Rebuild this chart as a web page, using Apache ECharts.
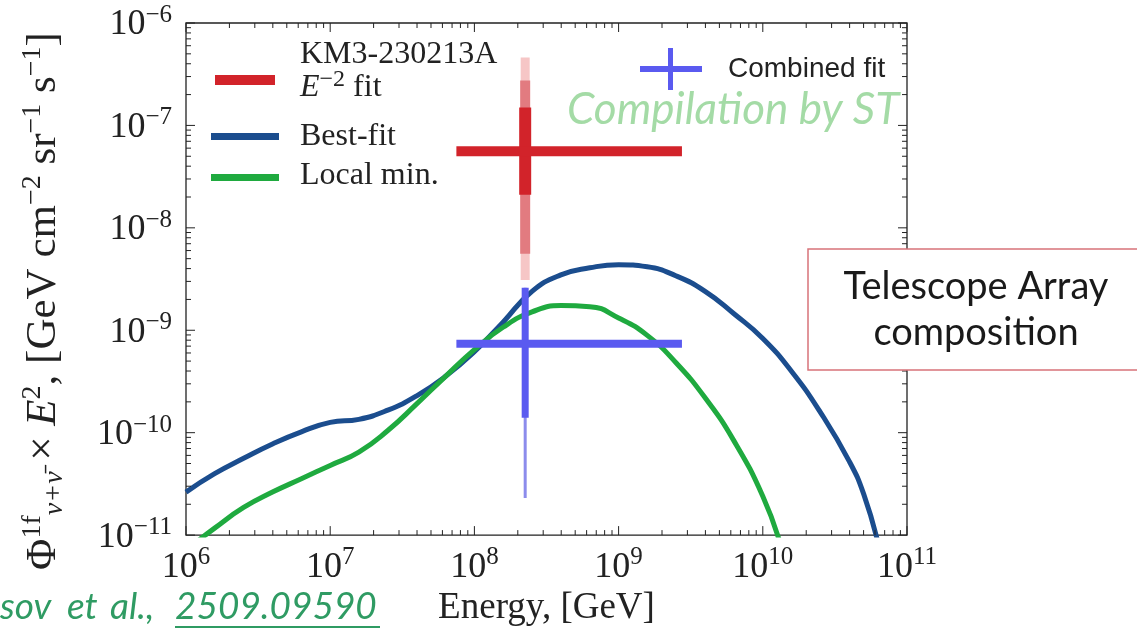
<!DOCTYPE html>
<html>
<head>
<meta charset="utf-8">
<script src="https://cdn.jsdelivr.net/npm/echarts@6/dist/echarts.min.js"></script>
<style>
  html, body { margin: 0; padding: 0; background: #fff; }
  #chart { width: 1137px; height: 632px; }
</style>
</head>
<body>
<div id="chart"></div>
<script>
// best-fit curve
const bestEnergy = [1e6, 1.58e6, 2.51e6, 3.98e6, 6.31e6, 1e7, 1.58e7, 2.51e7, 3.98e7, 6.31e7, 1e8, 1.58e8, 2.51e8, 3.98e8, 6.31e8, 1e9, 1.58e9, 2.51e9, 3.98e9, 6.31e9, 1e10, 1.58e10, 2.51e10, 3.98e10, 5.01e10, 6.31e10];
const bestFlux = [2.63e-11, 3.98e-11, 5.62e-11, 7.76e-11, 1.02e-10, 1.26e-10, 1.35e-10, 1.66e-10, 2.29e-10, 3.55e-10, 6.17e-10, 1.2e-9, 2.4e-9, 3.47e-9, 4.07e-9, 4.37e-9, 4.17e-9, 3.39e-9, 2.4e-9, 1.45e-9, 8.32e-10, 3.98e-10, 1.58e-10, 5.25e-11, 2.51e-11, 8.3e-12];
// local minimum curve
const localEnergy = [1.15e6, 1.58e6, 2.51e6, 3.98e6, 6.31e6, 1e7, 1.58e7, 2.51e7, 3.98e7, 6.31e7, 1e8, 1.58e8, 2.51e8, 3.98e8, 6.31e8, 1e9, 1.58e9, 2.51e9, 3.98e9, 6.31e9, 1e10, 1.32e10];
const localFlux = [8.3e-12, 1.17e-11, 1.86e-11, 2.63e-11, 3.55e-11, 4.79e-11, 6.46e-11, 1.05e-10, 1.91e-10, 3.55e-10, 6.46e-10, 1.07e-9, 1.51e-9, 1.74e-9, 1.70e-9, 1.32e-9, 8.91e-10, 4.79e-10, 2.19e-10, 8.32e-11, 2.4e-11, 8.3e-12];

// KM3-230213A E^-2 fit
const kmEnergy = 2.25e8;
const kmEnergyRange = [7.5e7, 2.75e9];
const kmFlux = 5.6e-8;
const km1s = [2.1e-8, 1.5e-7];
const km2s = [5.6e-9, 2.75e-7];
const km3s = [3.1e-9, 4.6e-7];
// combined fit
const combFlux = 7.4e-10;
const comb1s = [1.4e-10, 2.6e-9];
const comb2s = [2.3e-11, 2.6e-9];

const xMajor = [1e6, 1e7, 1e8, 1e9, 1e10, 1e11];
const yMajor = [1e-11, 1e-10, 1e-9, 1e-8, 1e-7, 1e-6];
const minorSteps = [2, 3, 4, 5, 6, 7, 8, 9];

function minors(majors) {
  let out = [];
  majors.slice(0, -1).forEach(m => minorSteps.forEach(k => out.push(k * m)));
  return out;
}

function powLabel(v) {
  const p = Math.round(Math.log10(v));
  return '{b|10}{s|' + String(p).replace('-', '\u2212') + '}';
}

const serif = 'Liberation Serif';
const ink = '#222';
const labelRich = {
  b: { fontFamily: serif, fontSize: 36, color: ink, lineHeight: 40, verticalAlign: 'bottom' },
  s: { fontFamily: serif, fontSize: 25, color: ink, lineHeight: 40, verticalAlign: 'top' },
};

const xAxis = {
  type: 'log',
  logBase: 10,
  min: 1e6,
  max: 1e11,
  position: 'bottom',
  axisLine: { show: false },
  axisTick: { show: false },
  axisLabel: { customValues: xMajor, margin: 10, formatter: powLabel, rich: labelRich },
  splitLine: { show: false },
  name: 'Energy, [GeV]',
  nameLocation: 'middle',
  nameGap: 50,
  nameTextStyle: { fontFamily: serif, fontSize: 37, color: ink },
};

const yAxis = {
  type: 'log',
  logBase: 10,
  min: 1e-11,
  max: 1e-6,
  position: 'left',
  axisLine: { show: false },
  axisTick: { show: false },
  axisLabel: { customValues: yMajor, margin: 14, formatter: powLabel, rich: labelRich },
  splitLine: { show: false },
};

function zip(xs, ys) {
  return xs.map((x, i) => [x, ys[i]]);
}

function seg(name, data, color, width, z) {
  return {
    name: name,
    type: 'line',
    data: data,
    symbol: 'none',
    silent: true,
    z: z,
    lineStyle: { color: color, width: width, cap: 'butt' },
  };
}

// inside ticks on all four sides, placed through the axis scales
function tickSeries(dim, majors) {
  const marks = majors.map(v => [v, 9]).concat(minors(majors).map(v => [v, 5]));
  return {
    type: 'custom',
    silent: true,
    z: 20,
    clip: false,
    data: marks.map(m => (dim === 'x' ? [m[0], 1e-9, m[1]] : [1e8, m[0], m[1]])),
    renderItem: (params, api) => {
      const cs = params.coordSys;
      const len = api.value(2);
      const p = api.coord([api.value(0), api.value(1)]);
      const st = { stroke: ink, lineWidth: 1 };
      if (dim === 'x') {
        const b = cs.y + cs.height;
        return {
          type: 'group',
          children: [
            { type: 'line', shape: { x1: p[0], y1: b, x2: p[0], y2: b - len }, style: st },
            { type: 'line', shape: { x1: p[0], y1: cs.y, x2: p[0], y2: cs.y + len }, style: st },
          ],
        };
      }
      const r = cs.x + cs.width;
      return {
        type: 'group',
        children: [
          { type: 'line', shape: { x1: cs.x, y1: p[1], x2: cs.x + len, y2: p[1] }, style: st },
          { type: 'line', shape: { x1: r, y1: p[1], x2: r - len, y2: p[1] }, style: st },
        ],
      };
    },
  };
}

const red = '#d2232a';
const blue = '#5a5af0';

const series = [
  {
    name: 'Best-fit',
    type: 'line',
    data: zip(bestEnergy, bestFlux),
    smooth: 0.5,
    symbol: 'none',
    lineStyle: { color: '#1b4d8e', width: 5 },
    z: 2,
  },
  {
    name: 'Local min.',
    type: 'line',
    data: zip(localEnergy, localFlux),
    smooth: 0.5,
    symbol: 'none',
    lineStyle: { color: '#1faa3f', width: 5 },
    z: 3,
  },
  seg('km3 3s', [[kmEnergy, km3s[0]], [kmEnergy, km3s[1]]], '#f6c6c6', 9, 4),
  seg('km3 2s', [[kmEnergy, km2s[0]], [kmEnergy, km2s[1]]], '#e27b80', 10, 5),
  seg('km3 1s', [[kmEnergy, km1s[0]], [kmEnergy, km1s[1]]], red, 12, 6),
  seg('km3 h', [[kmEnergyRange[0], kmFlux], [kmEnergyRange[1], kmFlux]], red, 10, 7),
  seg('comb 2s', [[kmEnergy, comb2s[0]], [kmEnergy, comb2s[1]]], '#8c8cec', 3, 8),
  seg('comb 1s', [[kmEnergy, comb1s[0]], [kmEnergy, comb1s[1]]], blue, 7, 9),
  seg('comb h', [[kmEnergyRange[0], combFlux], [kmEnergyRange[1], combFlux]], blue, 8, 10),
  tickSeries('x', xMajor),
  tickSeries('y', yMajor),
];

const legendFont = '32px "Liberation Serif"';
const refGreen = '#2f9b63';
const refFont = 'italic 37px Lato';

const graphic = [
  // y axis title
  {
    type: 'text', x: 44, y: 301, rotation: Math.PI / 2,
    style: {
      text: '{t|\u03A6}{s|1f}{u|\u03BD+\u03BD\u0304}{t| \u00D7 }{i|E}{s|2}{t|, [GeV cm}{s|\u22122}{t| sr}{s|\u22121}{t| s}{s|\u22121}{t|]}',
      align: 'center',
      verticalAlign: 'middle',
      rich: {
        t: { fontFamily: serif, fontSize: 43, fill: ink, lineHeight: 50, verticalAlign: 'middle' },
        i: { fontFamily: serif, fontSize: 43, fontStyle: 'italic', fill: ink, lineHeight: 50, verticalAlign: 'middle' },
        s: { fontFamily: serif, fontSize: 28, fill: ink, lineHeight: 50, verticalAlign: 'top' },
        u: { fontFamily: serif, fontSize: 28, fontStyle: 'italic', fill: ink, lineHeight: 50, verticalAlign: 'bottom' },
      },
    },
  },

  // left legend
  { type: 'rect', shape: { x: 215, y: 75, width: 60, height: 10 }, style: { fill: red } },
  { type: 'text', x: 300, y: 55, style: { text: 'KM3-230213A', font: legendFont, fill: ink, verticalAlign: 'middle' } },
  {
    type: 'text', x: 300, y: 86,
    style: {
      text: '{i|E}{s|\u22122}{n| fit}',
      verticalAlign: 'middle',
      rich: {
        i: { fontFamily: serif, fontSize: 32, fontStyle: 'italic', fill: ink, lineHeight: 36, verticalAlign: 'bottom' },
        s: { fontFamily: serif, fontSize: 24, fill: ink, lineHeight: 36, verticalAlign: 'top' },
        n: { fontFamily: serif, fontSize: 32, fill: ink, lineHeight: 36, verticalAlign: 'bottom' },
      },
    },
  },
  { type: 'rect', shape: { x: 211, y: 133, width: 68, height: 7 }, style: { fill: '#1b4d8e' } },
  { type: 'text', x: 300, y: 137, style: { text: 'Best-fit', font: legendFont, fill: ink, verticalAlign: 'middle' } },
  { type: 'rect', shape: { x: 211, y: 174, width: 68, height: 7 }, style: { fill: '#1faa3f' } },
  { type: 'text', x: 300, y: 176, style: { text: 'Local min.', font: legendFont, fill: ink, verticalAlign: 'middle' } },

  // combined fit legend
  { type: 'rect', shape: { x: 640, y: 66, width: 62, height: 6 }, style: { fill: blue } },
  { type: 'rect', shape: { x: 668, y: 48, width: 5, height: 42 }, style: { fill: blue } },
  { type: 'text', x: 728, y: 69, style: { text: 'Combined fit', font: '28px "Liberation Sans"', fill: ink, verticalAlign: 'middle' } },

  {
    type: 'text', x: 567, y: 110, z: 50,
    style: { text: 'Compilation by ST', font: 'italic 44px Lato', fill: '#a4dba6', verticalAlign: 'middle' },
  },

  // Telescope Array box
  {
    type: 'rect', z: 100,
    shape: { x: 808, y: 249, width: 340, height: 121 },
    style: { fill: '#fff', stroke: '#d8737a', lineWidth: 1.5 },
  },
  { type: 'text', z: 101, x: 976, y: 287, style: { text: 'Telescope Array', font: '38px Lato', fill: '#1a1a1a', align: 'center', verticalAlign: 'middle' } },
  { type: 'text', z: 101, x: 976, y: 333, style: { text: 'composition', font: '38px Lato', fill: '#1a1a1a', align: 'center', verticalAlign: 'middle' } },

  // reference
  { type: 'text', x: 0, y: 607, style: { text: 'sov', font: refFont, fill: refGreen, verticalAlign: 'middle' } },
  { type: 'text', x: 67, y: 607, style: { text: 'et', font: refFont, fill: refGreen, verticalAlign: 'middle' } },
  { type: 'text', x: 110, y: 607, style: { text: 'al.,', font: refFont, fill: refGreen, verticalAlign: 'middle' } },
  { type: 'text', x: 175, y: 607, style: { text: '2509.09590', font: refFont, fill: refGreen, verticalAlign: 'middle' } },
  { type: 'rect', shape: { x: 175, y: 626, width: 205, height: 2 }, style: { fill: refGreen } },
];

const chart = echarts.init(document.getElementById('chart'));
chart.setOption({
  animation: false,
  backgroundColor: '#fff',
  grid: { left: 186, right: 230, top: 23, bottom: 93, show: true, borderColor: ink, borderWidth: 1.3, backgroundColor: 'transparent' },
  xAxis: xAxis,
  yAxis: yAxis,
  series: series,
  graphic: graphic,
});
</script>
</body>
</html>
